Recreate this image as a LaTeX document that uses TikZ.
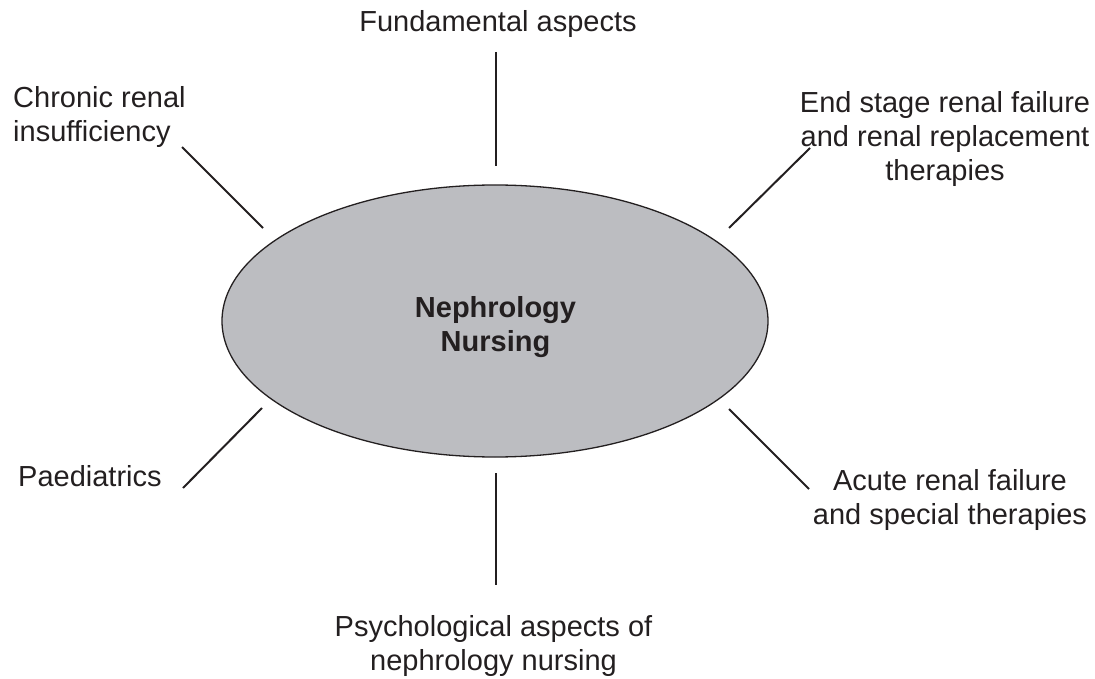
\documentclass[tikz,border=0pt]{standalone}
\usepackage{fontspec}
\setmainfont{Liberation Sans}
\usetikzlibrary{shapes.geometric}
\definecolor{ink}{RGB}{35,31,32}
\definecolor{corefill}{RGB}{188,189,193}
\tikzset{
  lbl/.style={font=\fontsize{29}{34}\selectfont, text=ink, inner sep=0pt, align=center},
  spoke/.style={draw=ink, line width=2pt},
  core/.style={ellipse, draw=ink, line width=1.3pt, fill=corefill, minimum width=546pt, minimum height=272pt, inner sep=0pt}
}
\begin{document}
\begin{tikzpicture}[x=1pt,y=-1pt]
\useasboundingbox (0,0) rectangle (1095,679);
\node[core] (hub) at (495,321) {};
\node[lbl, font=\fontsize{29}{34}\selectfont\bfseries] (hubtext) at (495.5,327) {Nephrology\\Nursing};

\node[lbl] (fund) at (498,24.5) {Fundamental aspects};
\node[lbl, anchor=west, align=left] (chronic) at (13,117.5) {Chronic renal\\insufficiency};
\node[lbl] (esrf) at (945,139.5) {End stage renal failure\\and renal replacement\\therapies};
\node[lbl, anchor=west] (paed) at (18,476) {Paediatrics};
\node[lbl] (arf) at (950,499.5) {Acute renal failure\\and special therapies};
\node[lbl] (psych) at (493.5,646) {Psychological aspects of\\nephrology nursing};

\coordinate (t1) at (496,52);   \coordinate (t2) at (496,166);
\coordinate (b1) at (496,473);  \coordinate (b2) at (496,585);
\coordinate (ul1) at (182,147); \coordinate (ul2) at (263,228);
\coordinate (ur1) at (810,148); \coordinate (ur2) at (729,228);
\coordinate (ll1) at (262,408); \coordinate (ll2) at (183,488);
\coordinate (lr1) at (729,409); \coordinate (lr2) at (809,489);

\draw[spoke] (t1) -- (t2);
\draw[spoke] (b1) -- (b2);
\draw[spoke] (ul1) -- (ul2);
\draw[spoke] (ur1) -- (ur2);
\draw[spoke] (ll1) -- (ll2);
\draw[spoke] (lr1) -- (lr2);
\end{tikzpicture}
\end{document}
